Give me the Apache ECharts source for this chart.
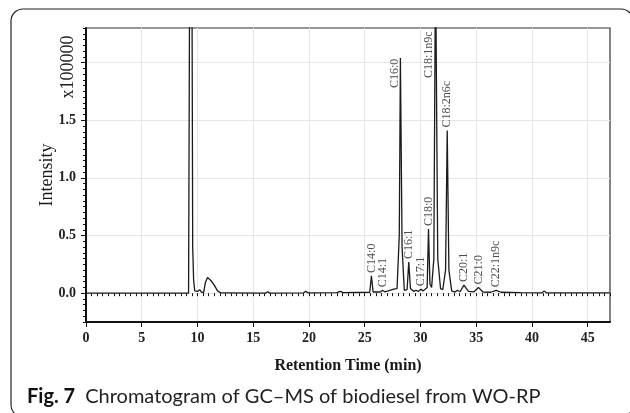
<!DOCTYPE html>
<html>
<head>
<meta charset="utf-8">
<script src="https://cdn.jsdelivr.net/npm/echarts@6/dist/echarts.min.js"></script>
<style>html,body{margin:0;padding:0;background:#fff;}#c{width:630px;height:413px;}</style>
</head>
<body>
<div id="c"></div>
<script>
// Retention time (min) and intensity (x100000)
var times = [0, 5, 9.2, 9.3, 9.5, 9.57, 9.65, 9.75, 10.0, 10.2, 10.35, 10.55, 10.7, 10.9, 11.2, 11.5, 11.8, 12.1,
  16.1, 16.3, 16.5, 19.5, 19.7, 19.95, 22.5, 22.8, 23.1, 25.45, 25.6, 25.75, 26.4, 26.6, 26.8, 27.1, 27.6, 27.9,
  28.1, 28.2, 28.35, 28.55, 28.8, 28.95, 29.1, 29.4, 29.6, 29.8, 30.05, 30.25, 30.6, 30.72, 30.85, 31.0, 31.2,
  31.35, 31.55, 31.8, 32.0, 32.25, 32.4, 32.55, 32.8, 33.1, 33.3, 33.55, 33.9, 34.3, 34.8, 35.2, 35.6, 36.3, 36.8,
  37.2, 39.0, 40.9, 41.1, 41.3, 47];
var intensity = [0, 0, 0, 2.9, 2.9, 0.4, 0.12, 0.02, 0.015, 0.03, 0.01, 0.005, 0.09, 0.135, 0.11, 0.07, 0.02, 0.002,
  0, 0.012, 0, 0.002, 0.016, 0.003, 0.005, 0.016, 0.005, 0.008, 0.15, 0.01, 0.01, 0.025, 0.012, 0.02, 0.035, 0.04,
  0.5, 2.04, 0.4, 0.025, 0.03, 0.27, 0.04, 0.015, 0.025, 0.015, 0.035, 0.02, 0.05, 0.556, 0.08, 0.05, 0.3,
  2.9, 0.3, 0.04, 0.03, 0.2, 1.41, 0.2, 0.02, 0.01, 0.025, 0.012, 0.07, 0.015, 0.012, 0.05, 0.01, 0.008, 0.025,
  0.008, 0.005, 0.003, 0.02, 0.003, 0.003];

// Peak annotations
var peakNames = ['C14:0', 'C14:1', 'C16:0', 'C16:1', 'C17:1', 'C18:0', 'C18:1n9c', 'C18:2n6c', 'C20:1', 'C21:0', 'C22:1n9c'];
var peakTimes = [25.6, 26.6, 28.2, 28.95, 30.05, 30.72, 31.35, 32.4, 33.9, 35.2, 36.8];
var peakHeights = [0.15, 0.025, 2.04, 0.27, 0.035, 0.556, 2.3, 1.41, 0.07, 0.05, 0.025];

var xTicks = [0, 5, 10, 15, 20, 25, 30, 35, 40, 45];
var yTicks = [0, 0.5, 1.0, 1.5, 2.0];
var yTickLabels = ['0.0', '0.5', '1.0', '1.5', ''];

// label pixel offsets on screen [dx, dy] (style only)
var labelOffsets = {
  'C16:0': [-6, 30],
  'C18:1n9c': [-7, 50]
};

var lineData = times.map(function (t, i) { return [t, intensity[i]]; });
var labelData = peakNames.map(function (n, i) {
  var off = labelOffsets[n] || [0, -3];
  // label is rotated 90deg, so its offset is expressed in the rotated frame
  return {
    value: [peakTimes[i], peakHeights[i]],
    name: n,
    label: { offset: [-off[1], off[0]] }
  };
});

var serif = '"Liberation Serif", "DejaVu Serif", serif';
var chart = echarts.init(document.getElementById('c'), null, { renderer: 'canvas' });
chart.setOption({
  animation: false,
  backgroundColor: '#fff',
  grid: { left: 86, right: 20, top: 28, bottom: 91, show: true, borderColor: '#333', borderWidth: 1.2, backgroundColor: 'transparent' },
  xAxis: [{
    type: 'value', min: 0, max: 47, position: 'bottom',
    name: 'Retention Time (min)', nameLocation: 'middle', nameGap: 36,
    nameTextStyle: { fontFamily: serif, fontSize: 16, fontWeight: 'bold', color: '#1a1a1a' },
    axisLine: { show: true, onZero: false, lineStyle: { color: '#111', width: 2 } },
    axisTick: { show: true, length: 5, customValues: xTicks, lineStyle: { color: '#111', width: 1 } },
    axisLabel: { customValues: xTicks, margin: 9, fontFamily: serif, fontSize: 14, fontWeight: 'bold', color: '#222' },
    splitLine: { show: true, lineStyle: { color: '#e6e6e6', width: 1 } }
  }, {
    type: 'value', min: 0, max: 47, interval: 0.5, position: 'bottom', gridIndex: 0,
    axisLine: { show: false }, axisLabel: { show: false }, splitLine: { show: false },
    axisTick: { show: true, length: 3, lineStyle: { color: '#111', width: 1 } }
  }],
  yAxis: [{
    type: 'value', min: -0.25, max: 2.3, position: 'left',
    name: 'Intensity', nameLocation: 'middle', nameGap: 30, nameMoveOverlap: false,
    nameTextStyle: { fontFamily: serif, fontSize: 18, color: '#1a1a1a' },
    axisLine: { show: true, onZero: false, lineStyle: { color: '#111', width: 2 } },
    axisTick: { show: true, length: 5, customValues: yTicks, lineStyle: { color: '#111', width: 1 } },
    axisLabel: {
      customValues: yTicks, margin: 10, fontFamily: serif, fontSize: 14, fontWeight: 'bold', color: '#222',
      formatter: function (v) {
        for (var i = 0; i < yTicks.length; i++) { if (Math.abs(yTicks[i] - v) < 1e-6) return yTickLabels[i]; }
        return '';
      }
    },
    splitLine: { show: true, lineStyle: { color: '#e6e6e6', width: 1 } }
  }, {
    type: 'value', min: -0.25, max: 2.3, interval: 0.05, position: 'left', gridIndex: 0,
    axisLine: { show: false }, axisLabel: { show: false }, splitLine: { show: false },
    axisTick: { show: true, length: 3, lineStyle: { color: '#111', width: 1 } }
  }],
  graphic: [
    { type: 'rect', shape: { x: 11, y: 9, width: 622, height: 408, r: 12 }, style: { fill: 'none', stroke: '#222', lineWidth: 1.2 }, z: -10 },
    { type: 'text', x: 68, y: 67, rotation: Math.PI / 2, style: { text: 'x100000', font: '18px ' + serif, fill: '#222', align: 'center', verticalAlign: 'middle' } },
    { type: 'text', x: 27, y: 397, style: {
        text: '{b|Fig. 7}   {r|Chromatogram of GC–MS of biodiesel from WO-RP}',
        verticalAlign: 'middle',
        rich: {
          b: { fontFamily: 'Lato, "Open Sans", sans-serif', fontWeight: 'bold', fontSize: 20, fill: '#111' },
          r: { fontFamily: 'Lato, "Open Sans", sans-serif', fontSize: 20, fill: '#222' }
        }
    } }
  ],
  series: [{
    type: 'line', data: lineData, xAxisIndex: 0, yAxisIndex: 0,
    showSymbol: false, symbol: 'none', clip: true,
    lineStyle: { color: '#1a1a1a', width: 1.3 }, z: 5
  }, {
    type: 'scatter', data: labelData, xAxisIndex: 0, yAxisIndex: 0,
    symbolSize: 0, silent: true, z: 6,
    label: {
      show: true, position: 'inside', rotate: 90, align: 'left', verticalAlign: 'middle',
      formatter: function (p) { return p.name; },
      fontFamily: serif, fontSize: 12, color: '#222'
    }
  }]
});
</script>
</body>
</html>
